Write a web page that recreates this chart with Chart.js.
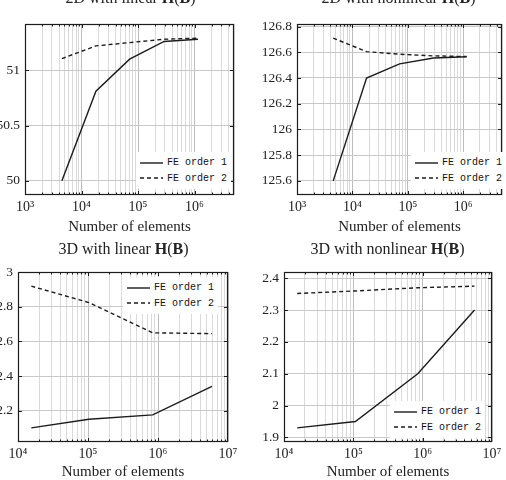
<!DOCTYPE html>
<html>
<head>
<meta charset="utf-8">
<script src="https://cdn.jsdelivr.net/npm/chart.js@4.4.1/dist/chart.umd.min.js"></script>
<style>
  html, body { margin: 0; padding: 0; background: #fff; overflow: hidden; }
  #wrap { position: relative; width: 506px; height: 480px; overflow: hidden; }
  canvas { position: absolute; }
  .title { position: absolute; width: 253px; text-align: center; font: 16px "Liberation Serif", serif; color: #222; white-space: nowrap; }
  .legend { position: absolute; background: #fff; font: 10px "Liberation Mono", monospace; color: #111; padding: 3px 4px; white-space: nowrap; }
  .legend .row { display: flex; align-items: center; height: 15.5px; }
  .legend svg { margin-right: 4px; }
</style>
</head>
<body>
<div id="wrap"></div>
<script>
// ---- data ----
const seriesNames = ['FE order 1', 'FE order 2'];

// 2D meshes (number of elements)
const elems2D = [4.5e3, 1.8e4, 7.1e4, 2.9e5, 1.15e6];
const lin2D_order1 = [50.0, 50.81, 51.1, 51.26, 51.28];
const lin2D_order2 = [51.105, 51.22, 51.25, 51.28, 51.29];
const nonlin2D_order1 = [125.6, 126.4, 126.51, 126.555, 126.565];
const nonlin2D_order2 = [126.71, 126.605, 126.585, 126.572, 126.567];

// 3D meshes
const elems3D_lin = [1.55e4, 1.03e5, 8.4e5, 5.9e6];
const lin3D_order1 = [2.1, 2.15, 2.175, 2.34];
const lin3D_order2 = [2.92, 2.825, 2.65, 2.645];
const elems3D_nonlin = [1.55e4, 1.07e5, 8.5e5, 5.6e6];
const nonlin3D_order1 = [1.93, 1.95, 2.1, 2.3];
const nonlin3D_order2 = [2.352, 2.36, 2.37, 2.375];

// tick values
const yTicks_lin2D = [50, 50.5, 51];
const yTicks_nonlin2D = [125.6, 125.8, 126, 126.2, 126.4, 126.6, 126.8];
const yTicks_lin3D = [2.2, 2.4, 2.6, 2.8, 3];
const yTicks_nonlin3D = [1.9, 2, 2.1, 2.2, 2.3, 2.4];
const xDecades2D = [3, 4, 5, 6];
const xDecades3D = [4, 5, 6, 7];

const titles = [
  '2D with linear <b>H</b>(<b>B</b>)',
  '2D with nonlinear <b>H</b>(<b>B</b>)',
  '3D with linear <b>H</b>(<b>B</b>)',
  '3D with nonlinear <b>H</b>(<b>B</b>)'
];
const xTitle = 'Number of elements';

// ---- helpers ----
const SUP = {'0':'⁰','1':'¹','2':'²','3':'³','4':'⁴','5':'⁵','6':'⁶','7':'⁷','8':'⁸','9':'⁹'};
function decadeLabel(d) { return '10' + String(d).split('').map(c => SUP[c]).join(''); }
function isDecade(v) { const l = Math.log10(v); return Math.abs(l - Math.round(l)) < 1e-9; }

const LINE = '#1c1c1c';
const FONT = "'Liberation Serif', serif";

const framePlugin = {
  id: 'frame',
  afterDraw(chart) {
    const {ctx, chartArea: a, scales: {x, y}} = chart;
    ctx.save();
    ctx.strokeStyle = LINE;
    ctx.lineWidth = 1;
    ctx.beginPath();
    x.ticks.forEach(t => {
      const px = Math.round(x.getPixelForValue(t.value)) + 0.5;
      if (px < a.left + 1 || px > a.right - 1) return;
      const len = isDecade(t.value) ? 4 : 2.5;
      ctx.moveTo(px, a.bottom); ctx.lineTo(px, a.bottom - len);
      ctx.moveTo(px, a.top); ctx.lineTo(px, a.top + len);
    });
    y.ticks.forEach(t => {
      const py = Math.round(y.getPixelForValue(t.value)) + 0.5;
      ctx.moveTo(a.left, py); ctx.lineTo(a.left + 4, py);
      ctx.moveTo(a.right, py); ctx.lineTo(a.right - 4, py);
    });
    ctx.stroke();
    ctx.lineWidth = 1.2;
    ctx.strokeRect(a.left + 0.5, a.top + 0.5, a.width - 1, a.height - 1);
    ctx.restore();
  }
};

const wrap = document.getElementById('wrap');

function makePlot(p) {
  const cv = document.createElement('canvas');
  cv.width = 253; cv.height = 240;
  cv.style.left = p.left + 'px'; cv.style.top = p.top + 'px';
  wrap.appendChild(cv);

  const t = document.createElement('div');
  t.className = 'title';
  t.style.left = p.left + p.titleDx + 'px';
  t.style.top = p.top + p.titleTop + 'px';
  t.innerHTML = p.title;
  wrap.appendChild(t);

  new Chart(cv, {
    type: 'line',
    data: {
      datasets: p.series.map((s, i) => ({
        label: seriesNames[i],
        data: p.xs.map((xv, j) => ({x: xv, y: s[j]})),
        borderColor: LINE,
        borderWidth: 1.4,
        borderDash: i === 1 ? [4, 3] : [],
        pointRadius: 0,
        tension: 0,
        fill: false
      }))
    },
    options: {
      responsive: false,
      animation: false,
      devicePixelRatio: 1,
      layout: { padding: p.pad },
      plugins: { legend: { display: false }, tooltip: { enabled: false } },
      scales: {
        x: {
          type: 'logarithmic',
          min: p.xmin, max: p.xmax,
          afterBuildTicks(axis) {
            const ticks = [];
            p.decades.forEach(d => {
              for (let m = 1; m <= 9; m++) {
                const v = m * Math.pow(10, d);
                if (v >= p.xmin && v <= p.xmax) ticks.push({value: v});
              }
            });
            axis.ticks = ticks;
          },
          afterFit(axis) { axis.height = p.xAxisH; },
          grid: {
            drawTicks: false,
            color: c => (c.tick && isDecade(c.tick.value)) ? '#bdbdbd' : '#dadada',
            lineWidth: 1
          },
          border: { display: false },
          ticks: {
            autoSkip: false, maxRotation: 0, padding: 4,
            color: '#222', font: { family: FONT, size: 14 },
            callback: v => isDecade(v) ? decadeLabel(Math.round(Math.log10(v))) : ''
          },
          title: {
            display: true, text: xTitle, color: '#222',
            font: { family: FONT, size: 15, lineHeight: 1 },
            padding: { top: 0, bottom: p.xTitlePad }
          }
        },
        y: {
          type: 'linear',
          min: p.ymin, max: p.ymax,
          afterBuildTicks(axis) { axis.ticks = p.yTicks.map(v => ({value: v})); },
          afterFit(axis) { axis.width = p.yAxisW; },
          grid: { drawTicks: false, color: '#c8c8c8', lineWidth: 1 },
          border: { display: false },
          ticks: {
            padding: 5, color: '#222', font: { family: FONT, size: 13.5 },
            callback: v => String(+v.toFixed(2))
          }
        }
      }
    },
    plugins: [framePlugin]
  });

  // legend box inside the plot area, anchored by its right edge
  const lg = document.createElement('div');
  lg.className = 'legend';
  lg.style.right = (506 - p.left - p.legend[0]) + 'px';
  lg.style.top = p.top + p.legend[1] + 'px';
  seriesNames.forEach((name, i) => {
    const row = document.createElement('div');
    row.className = 'row';
    row.innerHTML = '<svg width="23" height="4"><line x1="0" y1="2" x2="23" y2="2" stroke="' + LINE +
      '" stroke-width="1.4"' + (i === 1 ? ' stroke-dasharray="4 3"' : '') + '/></svg><span>' + name + '</span>';
    lg.appendChild(row);
  });
  wrap.appendChild(lg);
}

makePlot({
  left: 0, top: 0, title: titles[0], titleDx: 4, titleTop: -11,
  xs: elems2D, series: [lin2D_order1, lin2D_order2],
  xmin: 1e3, xmax: 5e6, decades: xDecades2D,
  ymin: 49.872, ymax: 51.418, yTicks: yTicks_lin2D,
  pad: { top: 24, right: 19, bottom: 0, left: 0 }, yAxisW: 25, xAxisH: 45, xTitlePad: 5.5,
  legend: [231, 152]
});
makePlot({
  left: 253, top: 0, title: titles[1], titleDx: 19, titleTop: -11,
  xs: elems2D, series: [nonlin2D_order1, nonlin2D_order2],
  xmin: 1e3, xmax: 5e6, decades: xDecades2D,
  ymin: 125.49, ymax: 126.82, yTicks: yTicks_nonlin2D,
  pad: { top: 24, right: 0, bottom: 0, left: 0 }, yAxisW: 44, xAxisH: 45, xTitlePad: 5.5,
  legend: [253, 152]
});
makePlot({
  left: 0, top: 240, title: titles[2], titleDx: -3, titleTop: 0,
  xs: elems3D_lin, series: [lin3D_order1, lin3D_order2],
  xmin: 1e4, xmax: 1e7, decades: xDecades3D,
  ymin: 2.018, ymax: 3.002, yTicks: yTicks_lin3D,
  pad: { top: 32, right: 25, bottom: 0, left: 0 }, yAxisW: 18, xAxisH: 38, xTitlePad: 0,
  legend: [218, 37]
});
makePlot({
  left: 253, top: 240, title: titles[3], titleDx: 8, titleTop: 0,
  xs: elems3D_nonlin, series: [nonlin3D_order1, nonlin3D_order2],
  xmin: 1e4, xmax: 1e7, decades: xDecades3D,
  ymin: 1.8855, ymax: 2.4195, yTicks: yTicks_nonlin3D,
  pad: { top: 32, right: 14, bottom: 0, left: 0 }, yAxisW: 31, xAxisH: 38, xTitlePad: 0,
  legend: [232, 161]
});
</script>
</body>
</html>
